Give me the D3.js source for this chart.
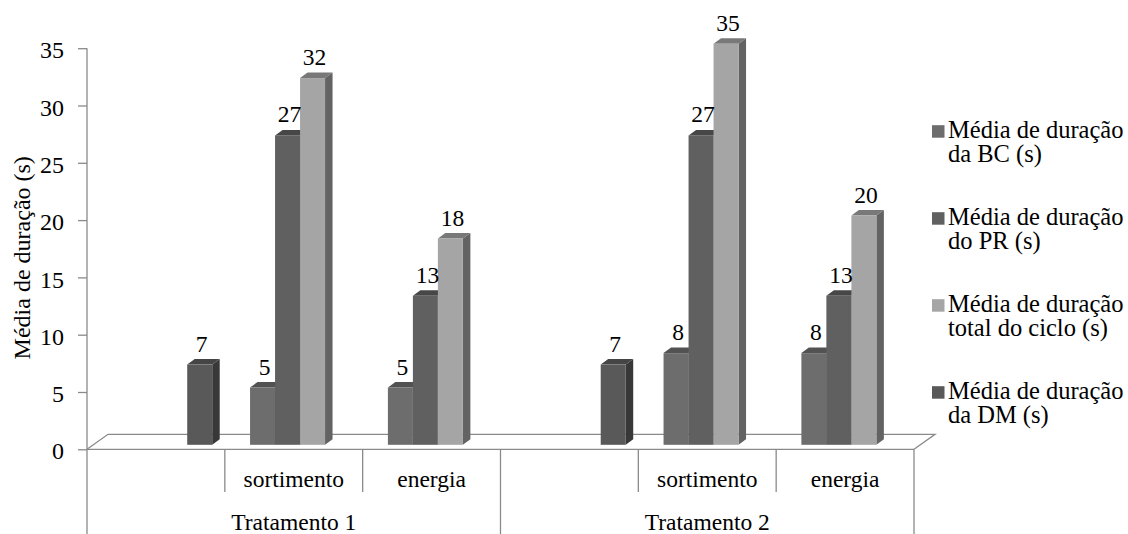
<!DOCTYPE html>
<html>
<head>
<meta charset="utf-8">
<script src="https://cdn.jsdelivr.net/npm/d3@7"></script>
<style>
  html, body { margin: 0; padding: 0; background: #ffffff; }
  svg { display: block; }
</style>
</head>
<body>
<svg id="chart" width="1128" height="534"></svg>
<script>
// Two treatments, each split into an unnamed slot plus "sortimento" and "energia"
const groups = ["Tratamento 1", "Tratamento 2"];
const subcategories = ["", "sortimento", "energia"];

const seriesNames = [
  ["Média de duração", "da BC (s)"],
  ["Média de duração", "do PR (s)"],
  ["Média de duração", "total do ciclo (s)"],
  ["Média de duração", "da DM (s)"]
];

// Values per leaf category (T1: -, sortimento, energia; T2: -, sortimento, energia)
const bcValues    = [null, 5, 5, null, 8, 8];
const prValues    = [null, 27, 13, null, 27, 13];
const totalValues = [null, 32, 18, null, 35, 20];
const dmValues    = [7, null, null, 7, null, null];

const yTicks = [0, 5, 10, 15, 20, 25, 30, 35];

// face colours: front, top, side
const palette = [
  { front: "#6d6d6d", top: "#525252", side: "#4a4a4a" },
  { front: "#606060", top: "#474747", side: "#414141" },
  { front: "#a5a5a5", top: "#787878", side: "#636363" },
  { front: "#595959", top: "#454545", side: "#383838" }
];

const seriesValues = [bcValues, prValues, totalValues, dmValues];

const FONT = "'Liberation Serif', Tinos, 'Times New Roman', Times, serif";
const FS = 23.5;

const svg = d3.select("#chart")
  .attr("font-family", FONT)
  .style("font-family", FONT);
const axisColor = "#8a8a8a";

const left = 87, right = 914, zeroY = 449.3, topY = 48.2;
// floor depth and bar placement within that depth
const floorDx = 21, floorDy = 15;
const barShiftX = 6.3, barShiftY = 4.5;
const barDx = 7.5, barDy = 5.5;

const leafKeys = [];
groups.forEach((g, gi) => subcategories.forEach((s, si) => leafKeys.push(gi + "|" + si)));

const x0 = d3.scaleBand().domain(leafKeys).range([left, right]).paddingInner(0).paddingOuter(0);
const x1 = d3.scaleBand().domain(d3.range(4)).range([0, x0.bandwidth()]).paddingInner(0).paddingOuter(0.757);
const y = d3.scaleLinear().domain([0, 35]).range([zeroY, topY]);

function label(sel) {
  return sel.style("font-family", FONT).attr("font-size", FS).attr("fill", "#000");
}

// floor: back edge and left / right depth edges
const floor = svg.append("g").attr("stroke", axisColor).attr("stroke-width", 1.3).attr("fill", "none");
floor.append("path").attr("d", d3.line()([
  [left, zeroY], [left + floorDx, zeroY - floorDy], [right + floorDx, zeroY - floorDy], [right, zeroY]
]));

// y axis
const yAxis = d3.axisLeft(y).tickValues(yTicks).tickSize(9).tickPadding(14);
const yg = svg.append("g").attr("transform", `translate(${left},0)`).call(yAxis)
  .attr("font-family", FONT);
yg.select(".domain").attr("stroke", axisColor).attr("stroke-width", 1.3)
  .attr("d", `M0,${topY}V${zeroY}`);
yg.selectAll(".tick line").attr("stroke", axisColor).attr("stroke-width", 1.3);
label(yg.selectAll(".tick text")).attr("font-size", 24).attr("dy", "0.4em");

label(svg.append("text"))
  .attr("transform", `translate(30,${(topY + zeroY) / 2 + 9}) rotate(-90)`)
  .attr("text-anchor", "middle")
  .attr("font-size", 24)
  .text("Média de duração (s)");

// bars
const bars = svg.append("g");
leafKeys.forEach((key, ci) => {
  seriesValues.forEach((vals, si) => {
    const v = vals[ci];
    if (v == null) return;
    const w = x1.bandwidth();
    const bx = x0(key) + x1(si) + barShiftX;
    const base = zeroY - barShiftY;
    const top = y(v) - barShiftY;
    const c = palette[si];
    bars.append("path").attr("fill", c.side)
      .attr("d", d3.line()([[bx + w, top], [bx + w + barDx, top - barDy], [bx + w + barDx, base - barDy], [bx + w, base]]) + "Z");
    bars.append("path").attr("fill", c.top)
      .attr("d", d3.line()([[bx, top], [bx + barDx, top - barDy], [bx + w + barDx, top - barDy], [bx + w, top]]) + "Z");
    bars.append("rect").attr("fill", c.front)
      .attr("x", bx).attr("y", top).attr("width", w).attr("height", base - top);
    label(svg.append("text"))
      .attr("x", bx + w / 2 + 2)
      .attr("y", top - 13)
      .attr("text-anchor", "middle")
      .text(v);
  });
});

// category axis: front floor edge plus divider lines
const cat = svg.append("g").attr("stroke", axisColor).attr("stroke-width", 1.3);
cat.append("line").attr("x1", left).attr("x2", right).attr("y1", zeroY).attr("y2", zeroY);
leafKeys.forEach((key, i) => {
  const xs = x0(key);
  const full = i % subcategories.length === 0;
  cat.append("line").attr("x1", xs).attr("x2", xs).attr("y1", zeroY).attr("y2", full ? 534 : 492);
});
cat.append("line").attr("x1", right).attr("x2", right).attr("y1", zeroY).attr("y2", 534);

leafKeys.forEach((key, i) => {
  const name = subcategories[i % subcategories.length];
  if (!name) return;
  label(svg.append("text"))
    .attr("x", x0(key) + x0.bandwidth() / 2)
    .attr("y", 486.5)
    .attr("text-anchor", "middle")
    .text(name);
});
groups.forEach((g, gi) => {
  const a = x0(gi + "|0");
  const b = x0(gi + "|" + (subcategories.length - 1)) + x0.bandwidth();
  label(svg.append("text"))
    .attr("x", (a + b) / 2)
    .attr("y", 530)
    .attr("text-anchor", "middle")
    .text(g);
});

// legend
const legend = svg.append("g");
seriesNames.forEach((lines, i) => {
  const by = 137.7 + i * 87;
  legend.append("rect")
    .attr("x", 932).attr("y", by - 12.5).attr("width", 12.5).attr("height", 12.5)
    .attr("fill", palette[i].front);
  lines.forEach((t, li) => {
    label(legend.append("text"))
      .attr("x", 948).attr("y", by + li * 24)
      .attr("font-size", 24.5)
      .text(t);
  });
});
</script>
</body>
</html>
